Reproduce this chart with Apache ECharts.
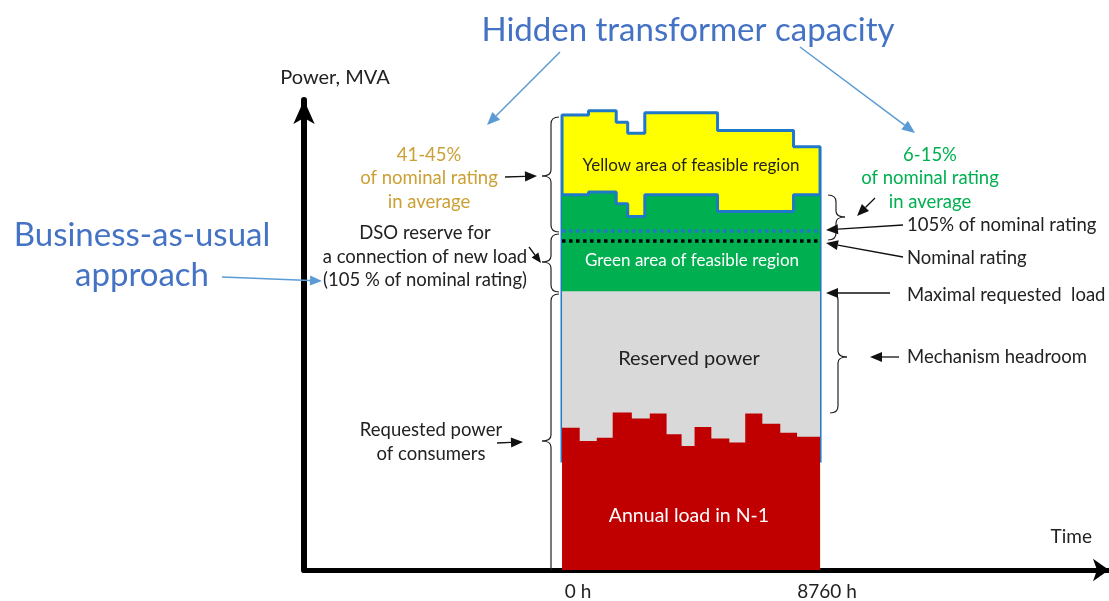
<!DOCTYPE html>
<html>
<head>
<meta charset="utf-8">
<script src="https://cdn.jsdelivr.net/npm/echarts@6/dist/echarts.min.js"></script>
<style>
  html, body { margin: 0; padding: 0; background: #fff; }
  #chart { width: 1109px; height: 601px; }
</style>
</head>
<body>
<div id="chart"></div>
<script>
// hours of the year where the annual load (N-1) changes
const loadHours = [0, 600, 1180, 1720, 2370, 2980, 3550, 4060, 4500, 5070, 5680, 6220, 6800, 7410, 7980, 8760];
const loadValues = [42.4, 38.4, 39.4, 46.9, 45.1, 46.6, 40.4, 36.9, 42.6, 39.2, 38.0, 46.6, 43.6, 40.9, 39.7];
// hours where the feasible region borders change
const feasHours = [0, 900, 1840, 2230, 2810, 5280, 7860, 8760];
const greenTop = [111.8, 112.6, 109.1, 105.3, 111.8, 106.8, 111.8];
const yellowTop = [135.5, 136.8, 133.4, 130.1, 136.2, 130.9, 126.1];
const maxRequested = 83;     // top of reserved power
const nominalRating = 98.2;
const rating105 = 101.1;
const outlineBottom = 32;    // where the blue frame stops
const xTicks = [0, 8760];

const FONT = 'Lato, "Open Sans", sans-serif';
const BLUE = '#4472C4';
const LBLUE = '#5B9BD5';
const TXT = '#222';
const FS = 18.5;

// step data: value i holds from hours[i] to hours[i+1]
function steps(hours, vals) {
    return hours.map((h, i) => [h, vals[Math.min(i, vals.length - 1)]]);
}

function arrow(x1, y1, x2, y2, color, w, head) {
    const a = Math.atan2(y2 - y1, x2 - x1);
    const L = head || 12, W = L * 0.42;
    const bx = x2 - L * Math.cos(a), by = y2 - L * Math.sin(a);
    const px = -Math.sin(a) * W, py = Math.cos(a) * W;
    return [
        { type: 'line', z: 100, shape: { x1: x1, y1: y1, x2: bx, y2: by }, style: { stroke: color, lineWidth: w } },
        { type: 'polygon', z: 100, shape: { points: [[x2, y2], [bx + px, by + py], [bx - px, by - py]] }, style: { fill: color } }
    ];
}

function txt(x, y, text, size, color, align, lh) {
    return {
        type: 'text', x: x, y: y, z: 100,
        style: {
            text: text, fill: color, font: size + 'px ' + FONT,
            align: align || 'center', verticalAlign: 'middle',
            lineHeight: lh || size * 1.3
        }
    };
}

// curly brace: dir -1 = tip to the left, +1 = tip to the right
function brace(x, y1, ym, y2, dir, bottomHook) {
    const st = { stroke: '#222', lineWidth: 1.2, fill: null };
    const h = -dir * 8, t = dir * 9;
    const els = [
        { type: 'bezierCurve', shape: { x1: x + h, y1: y1, cpx1: x, cpy1: y1, x2: x, y2: y1 + 7 }, style: st },
        { type: 'line', shape: { x1: x, y1: y1 + 7, x2: x, y2: ym - 6 }, style: st },
        { type: 'bezierCurve', shape: { x1: x, y1: ym - 6, cpx1: x, cpy1: ym, x2: x + t, y2: ym }, style: st },
        { type: 'bezierCurve', shape: { x1: x + t, y1: ym, cpx1: x, cpy1: ym, x2: x, y2: ym + 6 }, style: st }
    ];
    if (bottomHook) {
        els.push({ type: 'line', shape: { x1: x, y1: ym + 6, x2: x, y2: y2 - 7 }, style: st });
        els.push({ type: 'bezierCurve', shape: { x1: x, y1: y2 - 7, cpx1: x, cpy1: y2, x2: x + h, y2: y2 }, style: st });
    } else {
        els.push({ type: 'line', shape: { x1: x, y1: ym + 6, x2: x, y2: y2 }, style: st });
    }
    els.forEach(e => { e.z = 100; });
    return els;
}

const chart = echarts.init(document.getElementById('chart'));

const yellowData = [[0, outlineBottom]].concat(steps(feasHours, yellowTop), [[8760, outlineBottom]]);

let graphics = [
    txt(688, 30, 'Hidden transformer capacity', 33, BLUE),
    txt(142, 235, 'Business-as-usual', 33, BLUE),
    txt(142, 275, 'approach', 33, BLUE),
    txt(429, 178.5, '41-45%\nof nominal rating\nin average', FS, '#CBA135', 'center', 23.5),
    txt(425, 257, 'DSO reserve for\na connection of new load\n(105 % of nominal rating)', FS, TXT, 'center', 23.5),
    txt(431, 442, 'Requested power\nof consumers', FS, TXT, 'center', 24),
    txt(930, 178.5, '6-15%\nof nominal rating\nin average', FS, '#00B050', 'center', 23.5),
    txt(907, 225, '105% of nominal rating', FS, TXT, 'left'),
    txt(907, 258, 'Nominal rating', FS, TXT, 'left'),
    txt(907, 295, 'Maximal requested  load', FS, TXT, 'left'),
    txt(907, 357, 'Mechanism headroom', FS, TXT, 'left'),
    txt(691, 166, 'Yellow area of feasible region', 17, TXT),
    txt(692, 261, 'Green area of feasible region', 17, '#fff'),
    txt(689, 359, 'Reserved power', 20, TXT),
    txt(689, 516, 'Annual load in N-1', 19.5, '#fff')
];
graphics = graphics.concat(
    brace(551, 117, 176, 232, -1, true),
    brace(551, 234, 262, 292, -1, true),
    brace(551, 294, 441, 570, -1, false),
    brace(836, 195, 217, 240, 1, true),
    brace(838, 293, 357, 413, 1, true),
    arrow(560, 52, 487, 125, LBLUE, 1.5, 13),
    arrow(800, 47, 915, 133, LBLUE, 1.5, 13),
    arrow(222, 277, 322, 281, LBLUE, 1.5, 12),
    arrow(505, 177, 537, 176, '#111', 1.3, 12),
    arrow(529, 247, 541, 263, '#111', 1.3, 10),
    arrow(497, 443, 523, 442, '#111', 1.3, 12),
    arrow(875, 198, 857, 216, '#111', 1.3, 12),
    arrow(903, 225, 826, 230, '#111', 1.3, 12),
    arrow(903, 257, 826, 243, '#111', 1.3, 12),
    arrow(890, 293, 826, 293, '#111', 1.3, 12),
    arrow(899, 357, 870, 357, '#111', 1.3, 12)
);

const option = {
    animation: false,
    backgroundColor: '#fff',
    grid: { left: 304, right: -3, top: 100, bottom: 30 },
    xAxis: {
        type: 'value', min: -8760, max: 18570,
        splitLine: { show: false },
        axisTick: { show: false },
        axisLine: { show: true, onZero: false, symbol: ['none', 'arrow'], symbolSize: [17, 16],
            lineStyle: { color: '#000', width: 5 } },
        axisLabel: {
            customValues: xTicks, margin: 12, color: TXT, fontSize: 19, fontFamily: FONT,
            formatter: v => v === 0 ? '{a|0 h}' : '{b|' + v + ' h}',
            rich: {
                a: { padding: [0, 0, 0, 32], fontSize: 19, fontFamily: FONT, color: TXT },
                b: { padding: [0, 0, 0, 14], fontSize: 19, fontFamily: FONT, color: TXT }
            }
        },
        name: 'Time', nameLocation: 'end', nameGap: -17,
        nameTextStyle: { color: TXT, fontSize: 19, fontFamily: FONT, align: 'right', verticalAlign: 'bottom', padding: [0, 0, 24, 0] }
    },
    yAxis: {
        type: 'value', min: 0, max: 140,
        splitLine: { show: false },
        axisTick: { show: false },
        axisLabel: { show: false },
        axisLine: { show: true, onZero: false, symbol: ['none', 'arrow'], symbolSize: [16, 24],
            lineStyle: { color: '#000', width: 6 } },
        name: 'Power, MVA', nameLocation: 'end', nameGap: 12,
        nameTextStyle: { color: TXT, fontSize: 20, fontFamily: FONT, padding: [0, 0, 0, 62] }
    },
    graphic: graphics,
    series: [
        {
            name: 'Yellow area', type: 'line', step: 'end', symbol: 'none', z: 1,
            data: yellowData,
            lineStyle: { color: '#1F78C8', width: 3 },
            areaStyle: { color: '#FFFF00', opacity: 1 }
        },
        {
            name: 'Green area', type: 'line', step: 'end', symbol: 'none', z: 2,
            data: steps(feasHours, greenTop),
            lineStyle: { color: '#1F78C8', width: 3 },
            areaStyle: { color: '#00B050', opacity: 1 }
        },
        {
            name: 'Reserved power', type: 'line', symbol: 'none', z: 3,
            data: [[0, maxRequested], [8760, maxRequested]],
            lineStyle: { width: 0 },
            areaStyle: { color: '#D9D9D9', opacity: 1 }
        },
        {
            name: 'Annual load', type: 'line', step: 'end', symbol: 'none', z: 4,
            data: steps(loadHours, loadValues),
            lineStyle: { width: 0 },
            areaStyle: { color: '#C00000', opacity: 1 },
            markLine: {
                silent: true, symbol: 'none', label: { show: false },
                data: [
                    [{ coord: [0, rating105], lineStyle: { color: '#1F78C8', width: 3.5, type: [3.5, 3.5] } }, { coord: [8760, rating105] }],
                    [{ coord: [0, nominalRating], lineStyle: { color: '#000', width: 3.5, type: [3.5, 3.5] } }, { coord: [8760, nominalRating] }]
                ]
            }
        }
    ]
};
chart.setOption(option);
window.addEventListener('resize', function () { chart.resize(); });
</script>
</body>
</html>
